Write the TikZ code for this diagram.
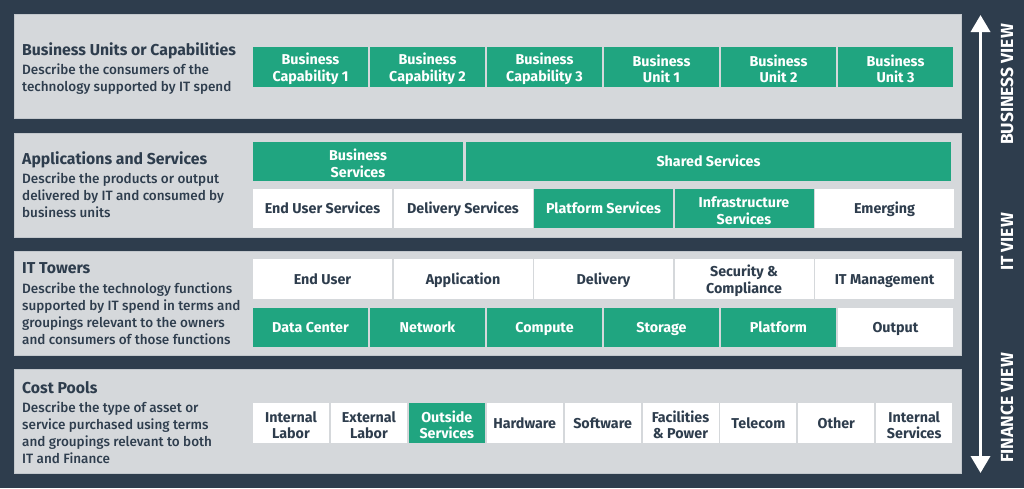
\documentclass[tikz,border=0pt]{standalone}
\usepackage{fontspec}
\setmainfont{Fira Sans}
\newfontfamily\medfont{Fira Sans Medium}
\usetikzlibrary{arrows.meta}
\definecolor{navy}{HTML}{2E3D4D}
\definecolor{panelgray}{HTML}{D5D8DB}
\definecolor{paneledge}{HTML}{C2C7CC}
\definecolor{tgreen}{HTML}{20A580}
\tikzset{
  panel/.style={fill=panelgray, draw=paneledge, line width=0.8pt},
  box/.style={inner sep=1pt, align=center, font=\fontsize{14.3}{16.6}\selectfont\bfseries,
    execute at begin node={\rule{0pt}{0.95em}}, execute at end node={\vphantom{g}}},
  gbox/.style={box, fill=tgreen, text=white},
  wbox/.style={box, fill=white, text=navy},
  twotxt/.style={inner sep=0pt, align=center, font=\fontsize{14.3}{16.6}\selectfont\bfseries, yshift=-2pt},
  gtxt/.style={twotxt, text=white},
  wtxt/.style={twotxt, text=navy},
  ttl/.style={anchor=north west, inner sep=0pt, text=navy, font=\fontsize{15.8}{18}\selectfont\bfseries},
  desc/.style={anchor=north west, inner sep=0pt, text=navy, align=left, font=\fontsize{13.5}{16.8}\selectfont\medfont},
  vlab/.style={rotate=90, text=white, font=\fontsize{17.5}{19}\selectfont\bfseries}
}
\begin{document}
\begin{tikzpicture}[x=1pt,y=-1pt]
\fill[navy] (0,0) rectangle (1024,488);
\useasboundingbox (0,0) rectangle (1024,488);
% panels
\draw[panel] (14,14) rectangle (961,118);
\draw[panel] (14,133) rectangle (961,237);
\draw[panel] (14,251) rectangle (961,355);
\draw[panel] (14,369) rectangle (961,473);
% left texts
\node[ttl] (t1) at (22,42) {Business Units or Capabilities};
\node[desc] (d1) at (22,64) {Describe the consumers of the\\technology supported by IT spend};
\node[ttl] (t2) at (22,151) {Applications and Services};
\node[desc] (d2) at (22,173) {Describe the products or output\\delivered by IT and consumed by\\business units};
\node[ttl] (t3) at (22,262) {IT Towers};
\node[desc] (d3) at (22,283) {Describe the technology functions\\supported by IT spend in terms and\\groupings relevant to the owners\\and consumers of those functions};
\node[ttl] (t4) at (22,381) {Cost Pools};
\node[desc] (d4) at (22,402) {Describe the type of asset or\\service purchased using terms\\and groupings relevant to both\\IT and Finance};
% panel 1 boxes
\foreach \t [count=\i from 0] in {Business\\Capability 1,Business\\Capability 2,Business\\Capability 3,Business\\Unit 1,Business\\Unit 2,Business\\Unit 3}{
  \node[gbox, minimum width=115pt, minimum height=40pt] (bu\i) at (310.5+117*\i,67) {};
  \node[gtxt] (bu\i t) at (bu\i.center) {\t};
}
% panel 2
\node[gbox, minimum width=210pt, minimum height=39pt] (bs) at (358,161.5) {};
\node[gtxt] (bst) at (bs.center) {Business\\Services};
\node[gbox, minimum width=485pt, minimum height=39pt] (ss) at (708.5,161.5) {Shared Services};
\node[wbox, minimum width=139pt, minimum height=39pt] (as0) at (322.5,208.5) {End User Services};
\node[wbox, minimum width=139pt, minimum height=39pt] (as1) at (463,208.5) {Delivery Services};
\node[gbox, minimum width=139pt, minimum height=39pt] (as2) at (603.5,208.5) {Platform Services};
\node[gbox, minimum width=139pt, minimum height=39pt] (as3) at (744,208.5) {};
\node[gtxt] (as3t) at (as3.center) {Infrastructure\\Services};
\node[wbox, minimum width=139pt, minimum height=39pt] (as4) at (884.5,208.5) {Emerging};
% panel 3
\node[wbox, minimum width=139pt, minimum height=40pt] (tw0) at (322.5,279) {End User};
\node[wbox, minimum width=139pt, minimum height=40pt] (tw1) at (463,279) {Application};
\node[wbox, minimum width=139pt, minimum height=40pt] (tw2) at (603.5,279) {Delivery};
\node[wbox, minimum width=139pt, minimum height=40pt] (tw3) at (744,279) {};
\node[wtxt] (tw3t) at (tw3.center) {Security \&\\Compliance};
\node[wbox, minimum width=139pt, minimum height=40pt] (tw4) at (884.5,279) {IT Management};
\node[gbox, minimum width=115pt, minimum height=39pt] (tt0) at (310.5,327.5) {Data Center};
\node[gbox, minimum width=115pt, minimum height=39pt] (tt1) at (427.5,327.5) {Network};
\node[gbox, minimum width=115pt, minimum height=39pt] (tt2) at (544.5,327.5) {Compute};
\node[gbox, minimum width=115pt, minimum height=39pt] (tt3) at (661.5,327.5) {Storage};
\node[gbox, minimum width=115pt, minimum height=39pt] (tt4) at (778.5,327.5) {Platform};
\node[wbox, minimum width=115pt, minimum height=39pt] (tt5) at (895.5,327.5) {Output};
% panel 4
\node[wbox, minimum width=76pt, minimum height=40pt] (cp0) at (291,423) {};
\node[wtxt] (cp0t) at (cp0.center) {Internal\\Labor};
\node[wbox, minimum width=76pt, minimum height=40pt] (cp1) at (368.9,423) {};
\node[wtxt] (cp1t) at (cp1.center) {External\\Labor};
\node[gbox, minimum width=76pt, minimum height=40pt] (cp2) at (446.8,423) {};
\node[gtxt] (cp2t) at (cp2.center) {Outside\\Services};
\node[wbox, minimum width=76pt, minimum height=40pt] (cp3) at (524.7,423) {Hardware};
\node[wbox, minimum width=76pt, minimum height=40pt] (cp4) at (602.6,423) {Software};
\node[wbox, minimum width=76pt, minimum height=40pt] (cp5) at (680.5,423) {};
\node[wtxt] (cp5t) at (cp5.center) {Facilities\\\& Power};
\node[wbox, minimum width=76pt, minimum height=40pt] (cp6) at (758.4,423) {Telecom};
\node[wbox, minimum width=76pt, minimum height=40pt] (cp7) at (836.3,423) {Other};
\node[wbox, minimum width=76pt, minimum height=40pt] (cp8) at (914.2,423) {};
\node[wtxt] (cp8t) at (cp8.center) {Internal\\Services};
% arrow
\coordinate (atop) at (980.5,15);
\coordinate (abot) at (980.5,473);
\draw[white, line width=3.5pt, {Triangle[width=19pt,length=17pt]}-{Triangle[width=19pt,length=17pt]}] (abot) -- (atop);
\node[vlab] (v1) at (1007,84.5) {BUSINESS VIEW};
\node[vlab] (v2) at (1007,242) {IT VIEW};
\node[vlab] (v3) at (1007,408) {FINANCE VIEW};
\end{tikzpicture}
\end{document}
